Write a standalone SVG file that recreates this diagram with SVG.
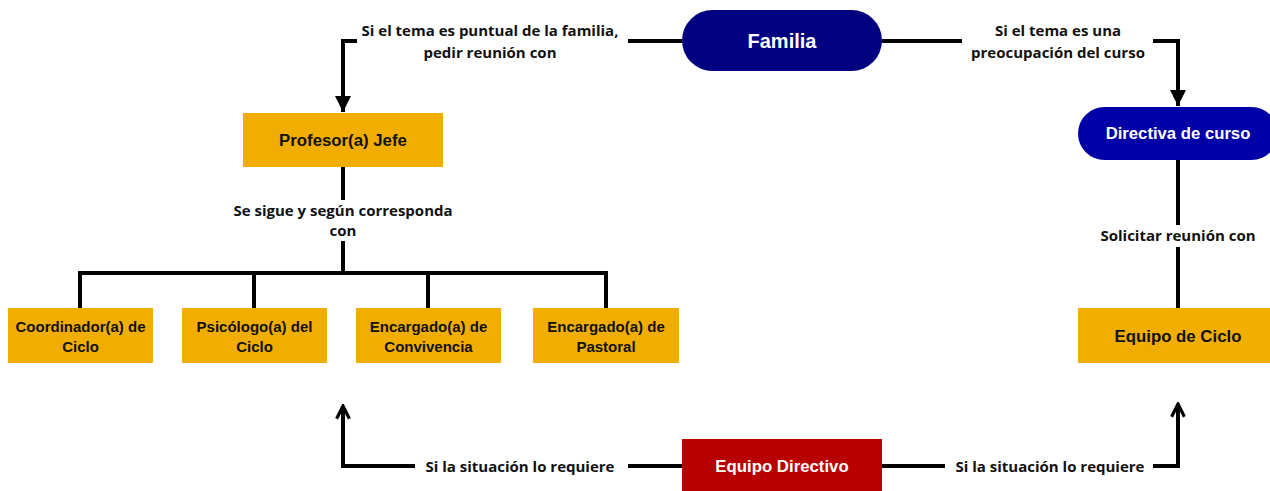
<svg xmlns="http://www.w3.org/2000/svg" width="1270" height="491" viewBox="0 0 1270 491">
<style>
.lbl{font-family:"Open Sans","Liberation Sans",sans-serif;font-weight:700;font-size:15px;fill:#111;text-anchor:middle}
.nt{font-family:"Liberation Sans",Arial,sans-serif;font-weight:700;text-anchor:middle}
.ln{fill:none;stroke:#000;stroke-width:4}
.or{fill:#f1ae00}
</style>
<defs>
<marker id="tri" viewBox="0 0 10 10" refX="10" refY="5" markerWidth="4" markerHeight="4" markerUnits="strokeWidth" orient="auto">
<path d="M0,0 L10,5 L0,10 Z" fill="#000"/>
</marker>
<marker id="chev" viewBox="0 0 10 10" refX="9" refY="5" markerWidth="4" markerHeight="4" markerUnits="strokeWidth" orient="auto">
<path d="M1,1 L9,5 L1,9" fill="none" stroke="#000" stroke-width="2"/>
</marker>
</defs>
<rect width="1270" height="491" fill="#fff"/>
<g id="connectors">
<path class="ln" d="M682,41 H628"/>
<path class="ln" d="M357,41 H343 V112" marker-end="url(#tri)"/>
<path class="ln" d="M882,41 H962"/>
<path class="ln" d="M1153,41 H1178 V106" marker-end="url(#tri)"/>
<path class="ln" d="M343,167 V200"/>
<path class="ln" d="M343,241 V273 M80,273 H606 M80,271 V308 M254,271 V308 M428,271 V308 M606,271 V308"/>
<path class="ln" d="M1178,160 V225 M1178,247 V308"/>
<path class="ln" d="M682,466 H628"/>
<path class="ln" d="M415,466 H343 V406" marker-end="url(#chev)"/>
<path class="ln" d="M882,466 H945"/>
<path class="ln" d="M1153,466 H1178 V404" marker-end="url(#chev)"/>
<text class="lbl" x="490" y="36">Si el tema es puntual de la familia,</text>
<text class="lbl" x="490" y="58">pedir reunión con</text>
<text class="lbl" x="1058" y="36">Si el tema es una</text>
<text class="lbl" x="1058" y="58">preocupación del curso</text>
<text class="lbl" x="343" y="216">Se sigue y según corresponda</text>
<text class="lbl" x="343" y="236">con</text>
<text class="lbl" x="1178" y="241">Solicitar reunión con</text>
<text class="lbl" x="520" y="472">Si la situación lo requiere</text>
<text class="lbl" x="1050" y="472">Si la situación lo requiere</text>
</g>
<g id="familia">
<rect x="682" y="10" width="200" height="61" rx="30.5" fill="#01017f"/>
<text class="nt" x="782" y="48" font-size="20" fill="#fff">Familia</text>
</g>
<g id="directiva">
<rect x="1078" y="107" width="200" height="53" rx="26.5" fill="#0000a6"/>
<text class="nt" x="1178" y="139" font-size="16.7" fill="#fff">Directiva de curso</text>
</g>
<g id="profesor">
<rect class="or" x="243" y="113" width="200" height="54"/>
<text class="nt" x="343" y="146" font-size="16.8" fill="#111">Profesor(a) Jefe</text>
</g>
<g id="coordinador">
<rect class="or" x="8" y="308" width="145" height="55"/>
<text class="nt" x="80.5" y="332" font-size="15" fill="#111">Coordinador(a) de</text>
<text class="nt" x="80.5" y="352" font-size="15" fill="#111">Ciclo</text>
</g>
<g id="psicologo">
<rect class="or" x="182" y="308" width="145" height="55"/>
<text class="nt" x="254.5" y="332" font-size="15" fill="#111">Psicólogo(a) del</text>
<text class="nt" x="254.5" y="352" font-size="15" fill="#111">Ciclo</text>
</g>
<g id="convivencia">
<rect class="or" x="356" y="308" width="145" height="55"/>
<text class="nt" x="428.5" y="332" font-size="15" fill="#111">Encargado(a) de</text>
<text class="nt" x="428.5" y="352" font-size="15" fill="#111">Convivencia</text>
</g>
<g id="pastoral">
<rect class="or" x="533" y="308" width="146" height="55"/>
<text class="nt" x="606" y="332" font-size="15" fill="#111">Encargado(a) de</text>
<text class="nt" x="606" y="352" font-size="15" fill="#111">Pastoral</text>
</g>
<g id="equipo-ciclo">
<rect class="or" x="1078" y="308" width="200" height="55"/>
<text class="nt" x="1178" y="342" font-size="16.8" fill="#111">Equipo de Ciclo</text>
</g>
<g id="equipo-directivo">
<rect x="682" y="439" width="200" height="60" fill="#b80000"/>
<text class="nt" x="782" y="472" font-size="16.8" fill="#fff">Equipo Directivo</text>
</g>
</svg>
